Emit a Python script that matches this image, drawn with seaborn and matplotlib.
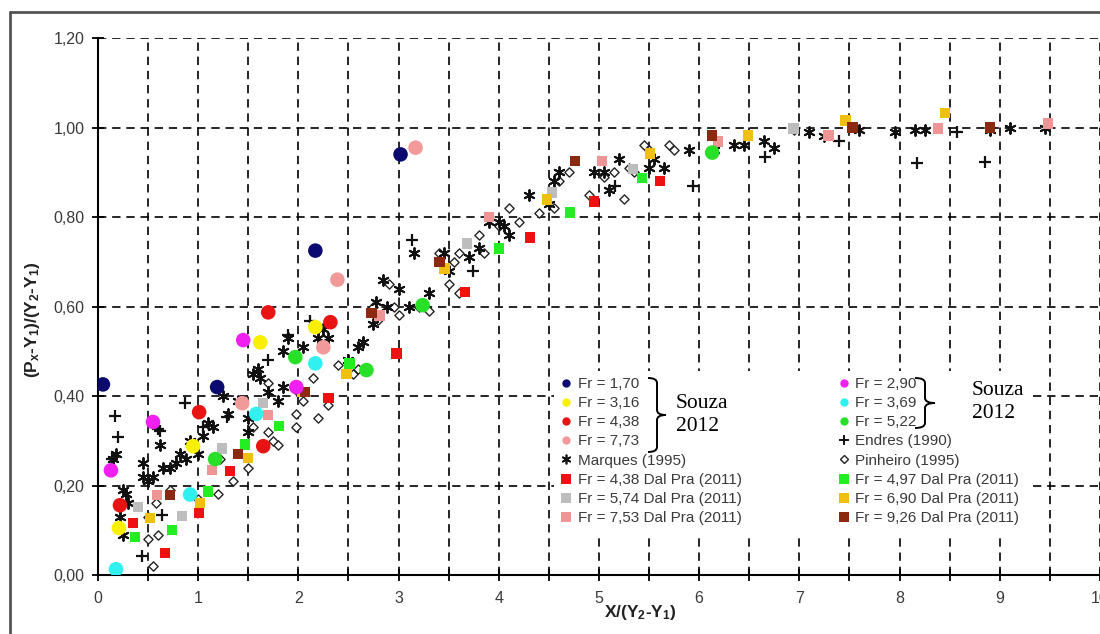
import matplotlib
matplotlib.use("Agg")
import matplotlib.pyplot as plt
import seaborn as sns
import numpy as np
from matplotlib.lines import Line2D
from matplotlib.patches import Rectangle, PathPatch
from matplotlib.path import Path
from matplotlib.ticker import MultipleLocator, FuncFormatter

# Souza (2012) - large circles
souza_170_x = [0.05, 1.19, 2.17, 3.02]
souza_170_y = [0.426, 0.42, 0.725, 0.94]
souza_290_x = [0.13, 0.55, 1.45, 1.98]
souza_290_y = [0.234, 0.342, 0.525, 0.42]
souza_316_x = [0.21, 0.95, 1.62, 2.17]
souza_316_y = [0.105, 0.288, 0.52, 0.554]
souza_369_x = [0.18, 0.92, 1.58, 2.17]
souza_369_y = [0.013, 0.18, 0.36, 0.473]
souza_438_x = [0.22, 1.01, 1.65, 1.70, 2.32]
souza_438_y = [0.156, 0.364, 0.288, 0.587, 0.565]
souza_522_x = [1.17, 1.97, 2.68, 3.24, 6.13]
souza_522_y = [0.259, 0.487, 0.458, 0.603, 0.944]
souza_773_x = [1.44, 2.25, 2.39, 3.17]
souza_773_y = [0.384, 0.509, 0.66, 0.955]

# Dal Pra (2011) - squares
dp438_x = [0.35, 0.67, 1.01, 1.32, 2.30, 2.98, 3.66, 4.31, 4.95, 5.61]
dp438_y = [0.116, 0.05, 0.138, 0.232, 0.395, 0.495, 0.632, 0.754, 0.835, 0.88]
dp497_x = [0.37, 0.74, 1.10, 1.47, 1.81, 2.51, 4.00, 4.71, 5.43]
dp497_y = [0.085, 0.10, 0.187, 0.292, 0.333, 0.473, 0.73, 0.81, 0.888]
dp574_x = [0.40, 0.84, 1.24, 1.65, 3.68, 4.53, 5.34, 6.94]
dp574_y = [0.152, 0.132, 0.283, 0.384, 0.741, 0.855, 0.908, 0.998]
dp690_x = [0.52, 1.02, 1.50, 2.04, 2.48, 3.46, 4.48, 5.51, 6.49, 7.46, 8.45]
dp690_y = [0.127, 0.161, 0.261, 0.409, 0.449, 0.685, 0.839, 0.942, 0.982, 1.016, 1.033]
dp753_x = [0.59, 1.14, 1.70, 2.81, 3.90, 5.03, 6.19, 7.29, 8.38, 9.48]
dp753_y = [0.179, 0.234, 0.357, 0.58, 0.80, 0.926, 0.969, 0.982, 0.998, 1.009]
dp926_x = [0.72, 1.40, 2.07, 2.73, 3.41, 4.76, 6.13, 7.53, 8.90]
dp926_y = [0.179, 0.27, 0.409, 0.585, 0.699, 0.926, 0.982, 1.0, 1.0]

# Endres (1990)
endres_x = [0.17, 0.20, 0.14, 0.44, 0.60, 0.62, 0.64, 0.87, 1.05, 1.29, 1.70, 1.90,
            2.12, 3.13, 3.74, 5.16, 5.94, 6.66, 7.40, 8.17, 8.57, 8.85]
endres_y = [0.355, 0.308, 0.26, 0.042, 0.326, 0.321, 0.134, 0.384, 0.33, 0.353, 0.48, 0.536,
            0.567, 0.748, 0.68, 0.87, 0.87, 0.935, 0.971, 0.92, 0.991, 0.924]

# Marques (1995)
marques_x = [0.15, 0.18, 0.25, 0.28, 0.22, 0.25, 0.30, 0.45, 0.45, 0.50, 0.55, 0.62, 0.65,
             0.72, 0.78, 0.82, 0.88, 0.92, 1.00, 1.05, 1.10, 1.15, 1.25, 1.30, 1.40, 1.50,
             1.50, 1.55, 1.60, 1.62, 1.70, 1.80, 1.85, 1.85, 1.90, 2.05, 2.20, 2.25, 2.30,
             2.50, 2.60, 2.65, 2.75, 2.78, 2.85, 2.88, 3.00, 3.10, 3.15, 3.30, 3.45, 3.50,
             3.70, 3.80, 3.90, 4.00, 4.05, 4.10, 4.30, 4.50, 4.55, 4.60, 4.95, 5.05, 5.10,
             5.20, 5.50, 5.55, 5.65, 5.90, 6.15, 6.35, 6.45, 6.65, 6.75, 7.10, 7.25, 7.60,
             7.95, 8.15, 8.25, 8.90, 9.10, 9.45]
marques_y = [0.26, 0.27, 0.19, 0.18, 0.13, 0.09, 0.16, 0.25, 0.22, 0.21, 0.22, 0.29, 0.24,
             0.24, 0.25, 0.27, 0.26, 0.30, 0.27, 0.31, 0.34, 0.33, 0.40, 0.36, 0.39, 0.32,
             0.35, 0.45, 0.46, 0.44, 0.41, 0.39, 0.42, 0.50, 0.53, 0.51, 0.53, 0.55, 0.53,
             0.48, 0.51, 0.52, 0.56, 0.61, 0.66, 0.60, 0.64, 0.60, 0.72, 0.63, 0.72, 0.68,
             0.71, 0.73, 0.79, 0.79, 0.78, 0.76, 0.85, 0.83, 0.88, 0.90, 0.90, 0.90, 0.86,
             0.93, 0.91, 0.93, 0.91, 0.95, 0.95, 0.96, 0.96, 0.97, 0.955, 0.99, 0.98, 0.995,
             0.99, 0.995, 0.995, 0.995, 1.0, 0.998]

# Pinheiro (1995)
pinheiro_x = [0.50, 0.50, 0.55, 0.60, 0.58, 0.72, 1.00, 1.20, 1.35, 1.22, 1.50, 1.55, 1.70,
              1.75, 1.80, 1.98, 1.98, 2.20, 2.30, 2.00, 2.05, 2.15, 1.70, 2.40, 2.55, 2.60,
              2.80, 2.95, 2.75, 2.90, 3.00, 3.20, 3.30, 3.40, 3.50, 3.60, 3.55, 3.60, 3.80,
              3.85, 4.00, 4.10, 4.20, 4.40, 4.55, 4.60, 4.70, 4.90, 5.15, 5.30, 5.35, 5.45,
              5.50, 5.70, 5.75, 5.05, 5.25, 6.95]
pinheiro_y = [0.13, 0.08, 0.02, 0.09, 0.16, 0.19, 0.17, 0.18, 0.21, 0.26, 0.24, 0.33, 0.32,
              0.30, 0.29, 0.33, 0.36, 0.35, 0.38, 0.41, 0.39, 0.44, 0.43, 0.47, 0.45, 0.46,
              0.57, 0.60, 0.60, 0.65, 0.58, 0.60, 0.59, 0.72, 0.65, 0.63, 0.70, 0.72, 0.76,
              0.72, 0.78, 0.82, 0.79, 0.81, 0.82, 0.88, 0.90, 0.85, 0.90, 0.91, 0.90, 0.96,
              0.95, 0.96, 0.95, 0.89, 0.84, 0.995]

sns.set_theme(style="white")
plt.rcParams['font.family'] = ['Liberation Sans', 'DejaVu Sans']
plt.rcParams['mathtext.fontset'] = 'custom'
plt.rcParams['mathtext.rm'] = 'Liberation Sans:bold'
plt.rcParams['mathtext.bf'] = 'Liberation Sans:bold'
plt.rcParams['mathtext.default'] = 'bf'

fig = plt.figure(figsize=(11, 6.34), dpi=100)
ax = fig.add_axes([0.089, 0.093, 0.911, 0.847])

circle_series = [
    ("Fr = 1,70", souza_170_x, souza_170_y, "#0a0a70"),
    ("Fr = 2,90", souza_290_x, souza_290_y, "#f020f0"),
    ("Fr = 3,16", souza_316_x, souza_316_y, "#f8f000"),
    ("Fr = 3,69", souza_369_x, souza_369_y, "#30f0f0"),
    ("Fr = 4,38", souza_438_x, souza_438_y, "#e81414"),
    ("Fr = 5,22", souza_522_x, souza_522_y, "#28e028"),
    ("Fr = 7,73", souza_773_x, souza_773_y, "#f29a9a"),
]
square_series = [
    ("Fr = 4,38 Dal Pra (2011)", dp438_x, dp438_y, "#ee1111"),
    ("Fr = 4,97 Dal Pra (2011)", dp497_x, dp497_y, "#22ee22"),
    ("Fr = 5,74 Dal Pra (2011)", dp574_x, dp574_y, "#bdbdbd"),
    ("Fr = 6,90 Dal Pra (2011)", dp690_x, dp690_y, "#f0c010"),
    ("Fr = 7,53 Dal Pra (2011)", dp753_x, dp753_y, "#ee9696"),
    ("Fr = 9,26 Dal Pra (2011)", dp926_x, dp926_y, "#8b2a10"),
]

star = (6, 2, 0)
sns.scatterplot(x=pinheiro_x, y=pinheiro_y, ax=ax, marker="D", s=22,
                facecolor="white", edgecolor="#222222", linewidth=1.0, zorder=3)
sns.scatterplot(x=endres_x, y=endres_y, ax=ax, marker="+", s=70,
                color="#111111", linewidth=1.6, zorder=3)
sns.scatterplot(x=marques_x, y=marques_y, ax=ax, marker=star, s=60,
                color="#111111", linewidth=1.4, zorder=3)
for name, xs, ys, c in square_series:
    sns.scatterplot(x=xs, y=ys, ax=ax, marker="s", s=55, color=c,
                    edgecolor="none", linewidth=0, zorder=4)
for name, xs, ys, c in circle_series:
    sns.scatterplot(x=xs, y=ys, ax=ax, marker="o", s=110, color=c,
                    edgecolor="none", linewidth=0, zorder=5)

ax.set_xlim(0, 10)
ax.set_ylim(0, 1.2)
ax.xaxis.set_major_locator(MultipleLocator(1))
ax.xaxis.set_minor_locator(MultipleLocator(0.5))
ax.yaxis.set_major_locator(MultipleLocator(0.2))
ax.yaxis.set_major_formatter(FuncFormatter(lambda v, p: f"{v:.2f}".replace(".", ",")))
ax.xaxis.set_major_formatter(FuncFormatter(lambda v, p: f"{v:.0f}"))

ax.set_axisbelow(True)
ax.grid(True, which="both", axis="x", color="black", linestyle=(0, (5, 3.5)), linewidth=1.2)
ax.grid(True, which="major", axis="y", color="black", linestyle=(0, (5, 3.5)), linewidth=1.2)
for side in ["top", "right"]:
    ax.spines[side].set_visible(False)
for side in ["left", "bottom"]:
    ax.spines[side].set_color("black")
    ax.spines[side].set_linewidth(1.5)
ax.tick_params(axis="both", which="both", direction="inout", length=9, width=1.3,
               color="black", labelsize=11.5, labelcolor="#3a3a3a", left=True, bottom=True)
ax.tick_params(axis="x", pad=7)
ax.tick_params(axis="y", pad=5)

ax.set_xlabel(r"X/(Y$_2$-Y$_1$)", fontsize=12.5, fontweight="bold", color="#222222")
ax.set_ylabel(r"(P$_x$-Y$_1$)/(Y$_2$-Y$_1$)", fontsize=12.5, fontweight="bold", color="#222222")
ax.xaxis.set_label_coords(0.541, -0.052)
ax.yaxis.set_label_coords(-0.056, 0.475)

# white area behind legend
ax.add_patch(Rectangle((0.455, 0.075), 0.475, 0.305, transform=ax.transAxes,
                       facecolor="white", edgecolor="none", zorder=1))

def handle(marker, color, ms, mfc=None, mew=0.0):
    return Line2D([], [], linestyle="none", marker=marker, color=color, markersize=ms,
                  markerfacecolor=mfc if mfc else color, markeredgecolor=color,
                  markeredgewidth=mew)

left_handles = [
    handle("o", "#0a0a70", 6), handle("o", "#f8f000", 6), handle("o", "#e81414", 6),
    handle("o", "#f29a9a", 6), handle(star, "#111111", 7, mew=1.2),
    handle("s", "#ee1111", 6.5), handle("s", "#bdbdbd", 6.5), handle("s", "#ee9696", 6.5),
]
left_labels = ["Fr = 1,70", "Fr = 3,16", "Fr = 4,38", "Fr = 7,73", "Marques (1995)",
               "Fr = 4,38 Dal Pra (2011)", "Fr = 5,74 Dal Pra (2011)", "Fr = 7,53 Dal Pra (2011)"]
right_handles = [
    handle("o", "#f020f0", 6), handle("o", "#30f0f0", 6), handle("o", "#28e028", 6),
    handle("+", "#111111", 7, mew=1.4), handle("D", "#222222", 4.5, mfc="white", mew=1.0),
    handle("s", "#22ee22", 6.5), handle("s", "#f0c010", 6.5), handle("s", "#8b2a10", 6.5),
]
right_labels = ["Fr = 2,90", "Fr = 3,69", "Fr = 5,22", "Endres (1990)", "Pinheiro (1995)",
                "Fr = 4,97 Dal Pra (2011)", "Fr = 6,90 Dal Pra (2011)", "Fr = 9,26 Dal Pra (2011)"]

leg_kw = dict(frameon=False, fontsize=11, labelcolor="#3a3a3a", handlelength=0.6,
              handletextpad=0.45, labelspacing=0.34, borderpad=0, borderaxespad=0,
              loc="upper left")
leg1 = ax.legend(left_handles, left_labels, bbox_to_anchor=(0.463, 0.369), **leg_kw)
ax.add_artist(leg1)
leg2 = ax.legend(right_handles, right_labels, bbox_to_anchor=(0.7395, 0.369), **leg_kw)

# braces and "Souza 2012" annotations (figure pixel coordinates)
W, H = 1100, 634

def brace(x, top, bot, w):
    mid = (top + bot) / 2
    r = 5
    verts = [(x, top), (x + w / 2, top), (x + w / 2, top + r),
             (x + w / 2, mid - r), (x + w / 2, mid), (x + w, mid),
             (x + w / 2, mid), (x + w / 2, mid + r),
             (x + w / 2, bot - r), (x + w / 2, bot), (x, bot)]
    codes = [Path.MOVETO, Path.CURVE3, Path.CURVE3, Path.LINETO, Path.CURVE3, Path.CURVE3,
             Path.CURVE3, Path.CURVE3, Path.LINETO, Path.CURVE3, Path.CURVE3]
    verts = [(vx / W, 1 - vy / H) for vx, vy in verts]
    fig.add_artist(PathPatch(Path(verts, codes), transform=fig.transFigure,
                             facecolor="none", edgecolor="black", linewidth=1.4))

brace(648, 378, 452, 18)
brace(915, 378, 428, 20)
for tx, ty in [(676, 415), (972, 402)]:
    fig.text(tx / W, 1 - ty / H, "Souza\n2012", family="Liberation Serif", fontsize=15.5,
             va="center", ha="left", linespacing=1.25, color="black")

# outer frame
fig.add_artist(Line2D([10 / W, 10 / W], [0, 1 - 12 / H], transform=fig.transFigure,
                      color="#555555", linewidth=2))
fig.add_artist(Line2D([10 / W, 1], [1 - 12 / H, 1 - 12 / H], transform=fig.transFigure,
                      color="#555555", linewidth=2))

fig.savefig("out.png", dpi=100)
